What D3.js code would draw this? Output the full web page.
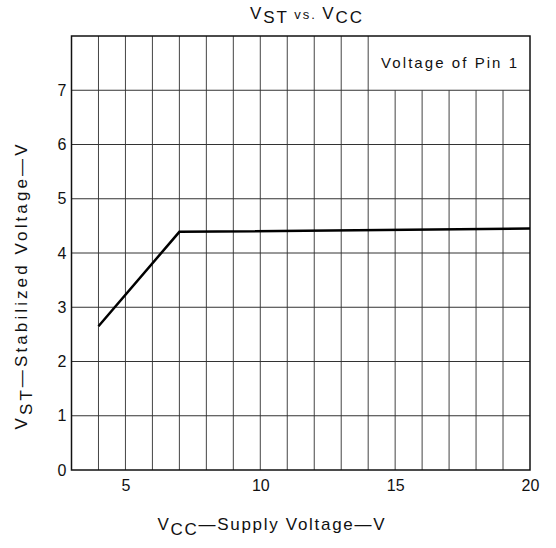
<!DOCTYPE html>
<html><head><meta charset="utf-8">
<script src="https://cdn.jsdelivr.net/npm/d3@7"></script>
<style>body{margin:0;background:#fff}svg{display:block}text{font-family:"Liberation Sans",Arial,sans-serif;fill:#111}</style>
</head><body>
<svg id="c" width="556" height="548"></svg>
<script>
const vcc = [4, 7, 20];
const vst = [2.65, 4.39, 4.45];
const xTicks = [5, 10, 15, 20];
const yTicks = [0, 1, 2, 3, 4, 5, 6, 7];
const xGrid = [4,5,6,7,8,9,10,11,12,13,14,15,16,17,18,19];
const yGrid = [1,2,3,4,5,6,7];
const insetText = "Voltage of Pin 1";

const svg = d3.select("#c");
const x = d3.scaleLinear().domain([3, 20]).range([71.5, 530]);
const y = d3.scaleLinear().domain([0, 8]).range([470, 36]);

const g = svg.append("g");
g.selectAll(".vg").data(xGrid).enter().append("line")
  .attr("x1", d => x(d)).attr("x2", d => x(d))
  .attr("y1", y(0)).attr("y2", d => d > 14 ? y(7) : y(8))
  .attr("stroke", "#444").attr("stroke-width", 1);
g.selectAll(".hg").data(yGrid).enter().append("line")
  .attr("x1", x(3)).attr("x2", x(20))
  .attr("y1", d => y(d)).attr("y2", d => y(d))
  .attr("stroke", "#333").attr("stroke-width", 1);
g.append("text").attr("x", (x(14) + x(20)) / 2).attr("y", y(7.5) + 5)
  .attr("text-anchor", "middle").attr("font-size", 15)
  .attr("textLength", 136).attr("lengthAdjust", "spacing").text(insetText);

g.append("rect").attr("x", x(3)).attr("y", y(8)).attr("width", x(20) - x(3)).attr("height", y(0) - y(8))
  .attr("fill", "none").attr("stroke", "#111").attr("stroke-width", 1.5);

const xAxis = d3.axisBottom(x).tickValues(xTicks).tickSize(0).tickPadding(10);
svg.append("g").attr("transform", `translate(0,${y(0)})`).call(xAxis)
  .call(s => s.select(".domain").remove())
  .call(s => s.selectAll("text").attr("font-size", 16).attr("fill", "#111").style("font-family", '"Liberation Sans",Arial,sans-serif'));
const yAxis = d3.axisLeft(y).tickValues(yTicks).tickSize(0).tickPadding(5);
svg.append("g").attr("transform", `translate(${x(3)},0)`).call(yAxis)
  .call(s => s.select(".domain").remove())
  .call(s => s.selectAll("text").attr("font-size", 16).attr("fill", "#111").style("font-family", '"Liberation Sans",Arial,sans-serif'));

const line = d3.line().x((d, i) => x(vcc[i])).y(d => y(d));
svg.append("path").datum(vst).attr("d", line)
  .attr("fill", "none").attr("stroke", "#000").attr("stroke-width", 2.5).attr("stroke-linejoin", "miter");

// title
const t = svg.append("text").attr("x", 306).attr("y", 19).attr("text-anchor", "middle").attr("font-size", 17)
  .attr("textLength", 112).attr("lengthAdjust", "spacing");
t.append("tspan").text("V");
t.append("tspan").attr("dy", 4).text("ST");
t.append("tspan").attr("dy", -4).attr("font-size", 13).text(" vs. ");
t.append("tspan").text("V");
t.append("tspan").attr("dy", 4).text("CC");

// x label
const xl = svg.append("text").attr("x", 271).attr("y", 530).attr("text-anchor", "middle").attr("font-size", 17)
  .attr("textLength", 227).attr("lengthAdjust", "spacing");
xl.append("tspan").text("V");
xl.append("tspan").attr("dy", 5).text("CC");
xl.append("tspan").attr("dy", -5).text("\u2014Supply  Voltage\u2014V");

// y label
const yl = svg.append("text").attr("transform", "translate(27,287) rotate(-90)").attr("text-anchor", "middle").attr("font-size", 17)
  .attr("textLength", 285).attr("lengthAdjust", "spacing");
yl.append("tspan").text("V");
yl.append("tspan").attr("dy", 5).text("ST");
yl.append("tspan").attr("dy", -5).text("\u2014Stabilized  Voltage\u2014V");
</script>
</body></html>
